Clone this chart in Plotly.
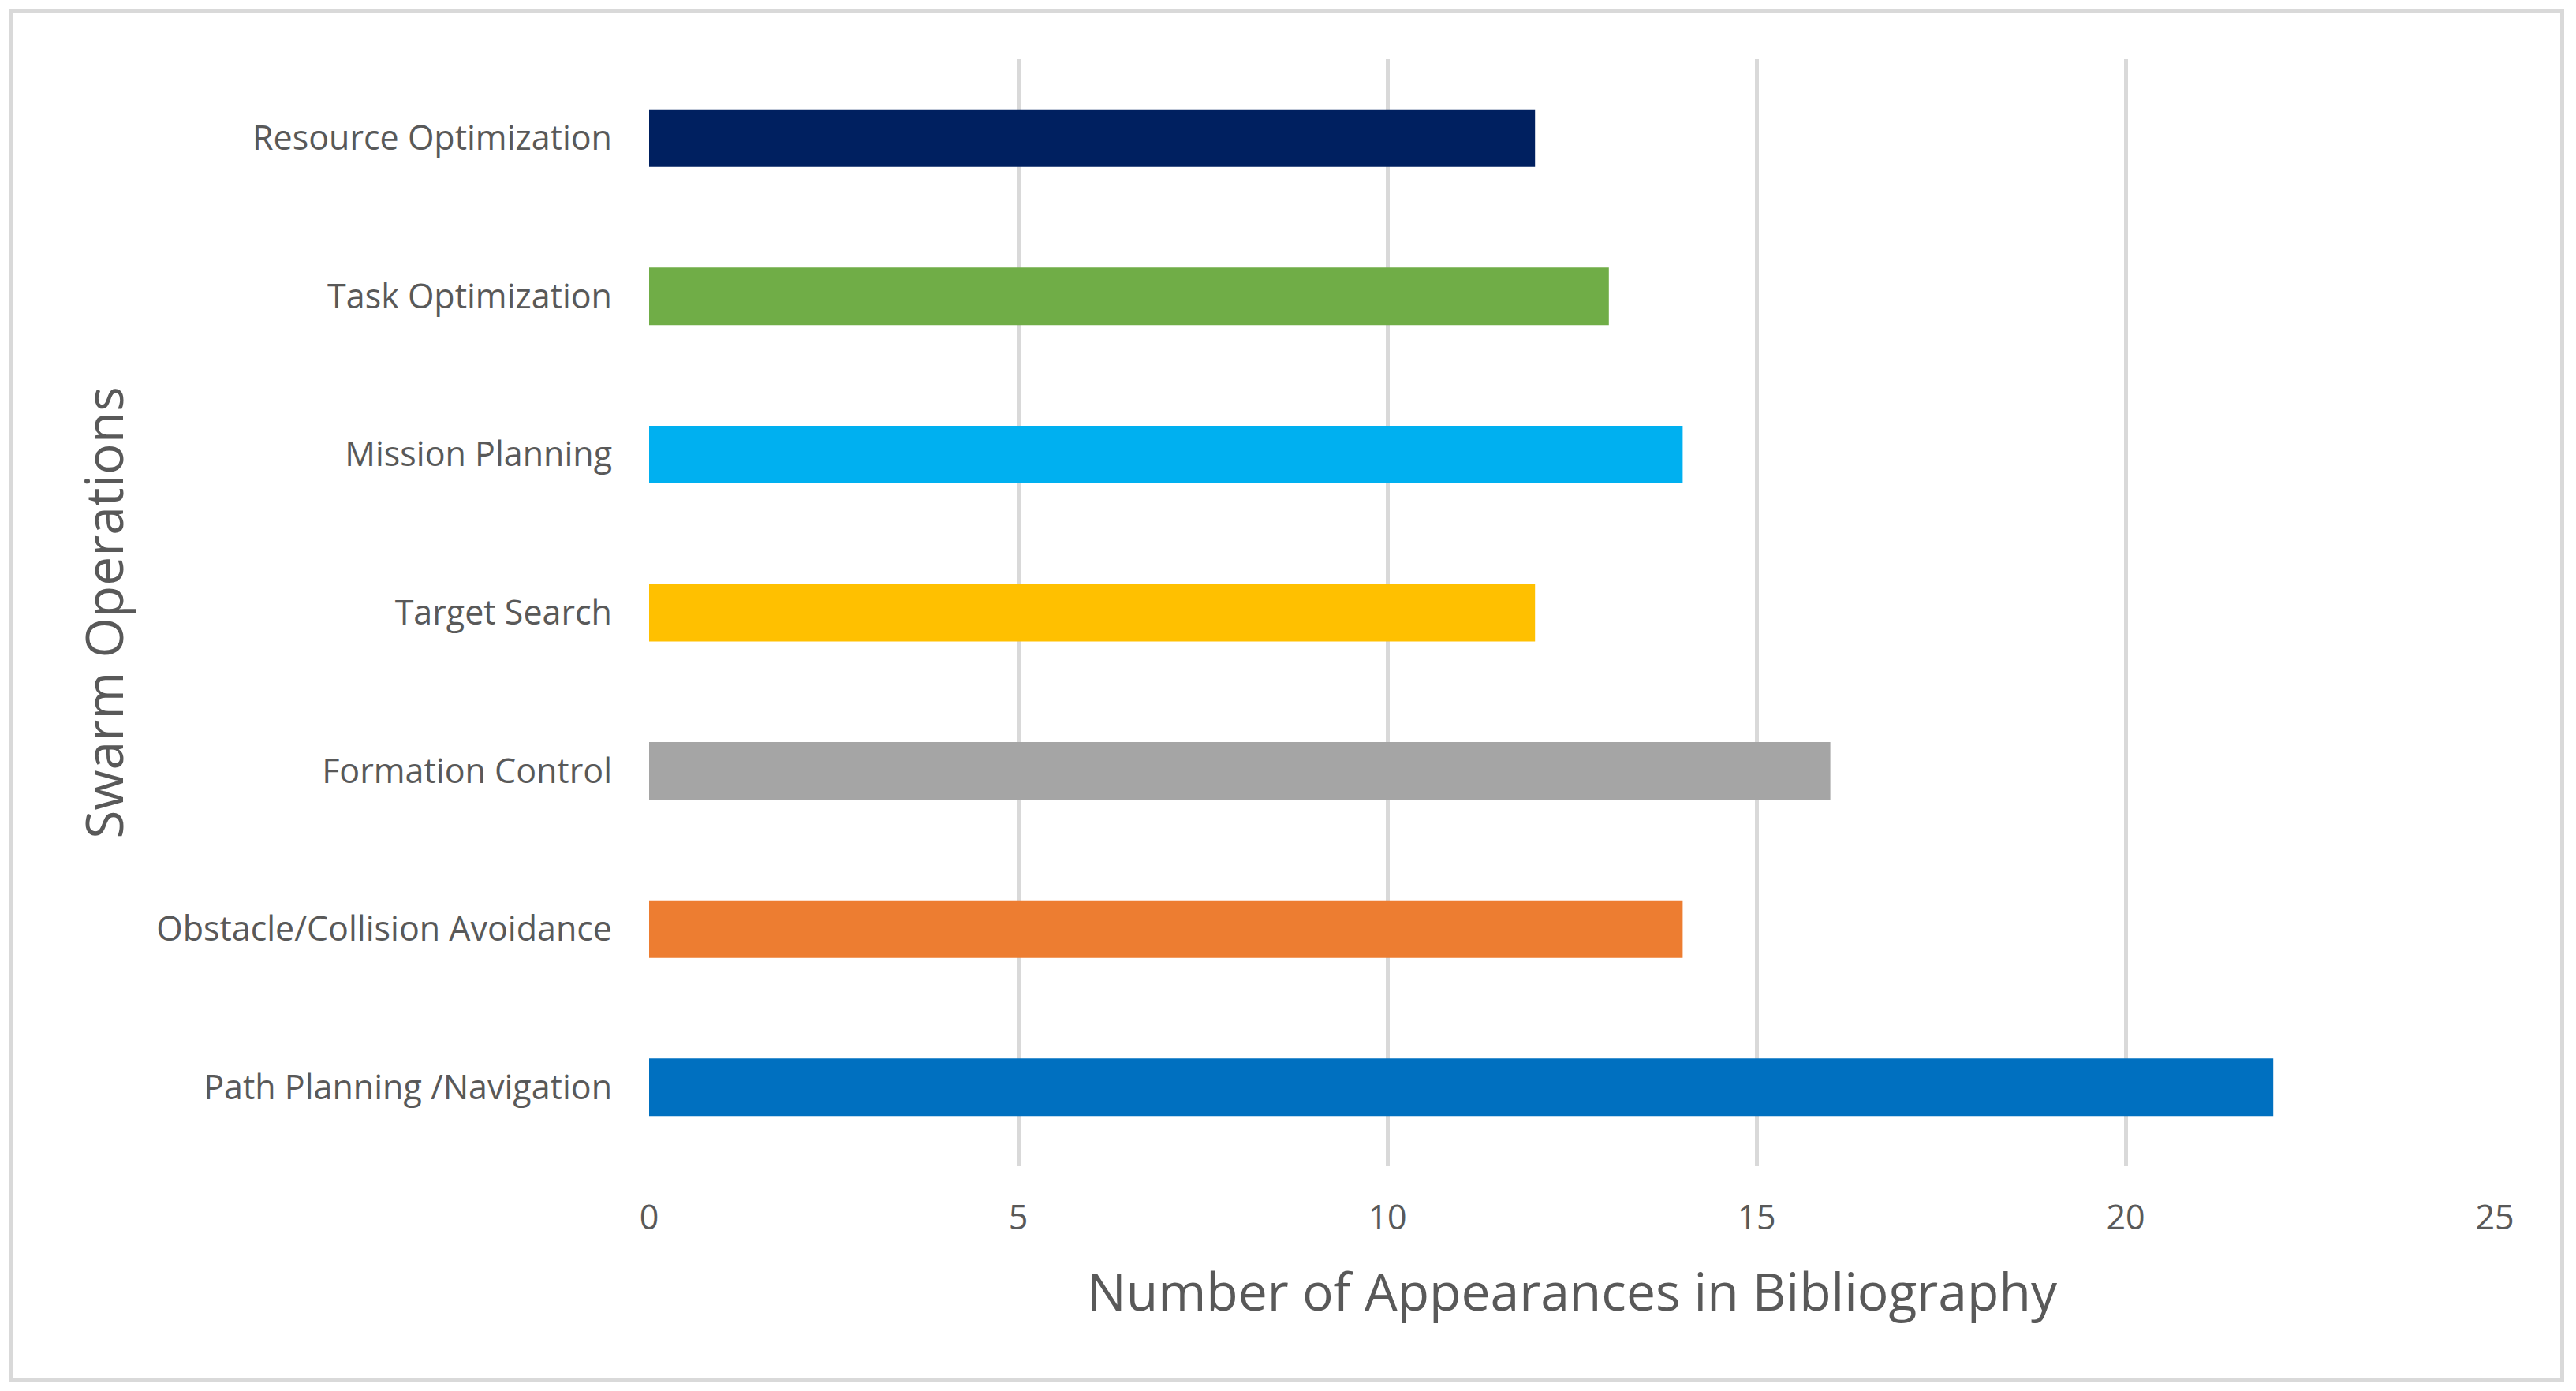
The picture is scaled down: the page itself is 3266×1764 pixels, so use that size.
import plotly.graph_objects as go

categories = [
    "Path Planning /Navigation",
    "Obstacle/Collision Avoidance",
    "Formation Control",
    "Target Search",
    "Mission Planning",
    "Task Optimization",
    "Resource Optimization",
]
values = [22, 14, 16, 12, 14, 13, 12]
colors = ["#0070C0", "#ED7D31", "#A5A5A5", "#FFC000", "#00B0F0", "#70AD47", "#002060"]
x_ticks = [0, 5, 10, 15, 20, 25]

# page body has an 8px margin, so the figure is laid out 8px in from the edges
W, H = 3250, 1748
L, R, T, B = 815, 95, 67, 277
pw, ph = W - L - R, H - T - B

def px_to_paper_x(p):
    return (p - L) / pw

def px_to_paper_y(p):
    return (H - B - p) / ph

fig = go.Figure(
    go.Bar(
        x=values,
        y=categories,
        orientation="h",
        marker=dict(color=colors, line=dict(width=0)),
        width=0.364,
    )
)

font_family = "'Open Sans', 'Noto Sans', sans-serif"
fig.update_layout(
    width=W,
    height=H,
    margin=dict(l=L, r=R, t=T, b=B, autoexpand=False),
    paper_bgcolor="white",
    plot_bgcolor="white",
    showlegend=False,
    font=dict(family=font_family, color="#595959"),
    xaxis=dict(
        range=[0, 25],
        tickvals=x_ticks,
        showgrid=True,
        gridcolor="#d9d9d9",
        gridwidth=5,
        zeroline=False,
        showline=False,
        ticks="",
        tickfont=dict(size=43, color="#595959"),
        ticklabelstandoff=36,
        automargin=False,
        title=dict(text="Number of Appearances in Bibliography",
                   font=dict(size=66, color="#595959"), standoff=44),
    ),
    yaxis=dict(
        categoryorder="array",
        categoryarray=categories,
        range=[-0.5, 6.5],
        showgrid=False,
        zeroline=False,
        showline=False,
        ticks="",
        tickfont=dict(size=43, color="#595959"),
        ticklabelstandoff=46,
        automargin=False,
        title=dict(text="Swarm Operations",
                   font=dict(size=66, color="#595959"), standoff=20),
    ),
    shapes=[
        dict(
            type="rect",
            xref="paper",
            yref="paper",
            x0=px_to_paper_x(6.5),
            x1=px_to_paper_x(3240.5),
            y0=px_to_paper_y(1741.5),
            y1=px_to_paper_y(6.5),
            line=dict(color="#d9d9d9", width=5),
            fillcolor="rgba(0,0,0,0)",
            layer="below",
        )
    ],
)

fig.write_html("out.html")
